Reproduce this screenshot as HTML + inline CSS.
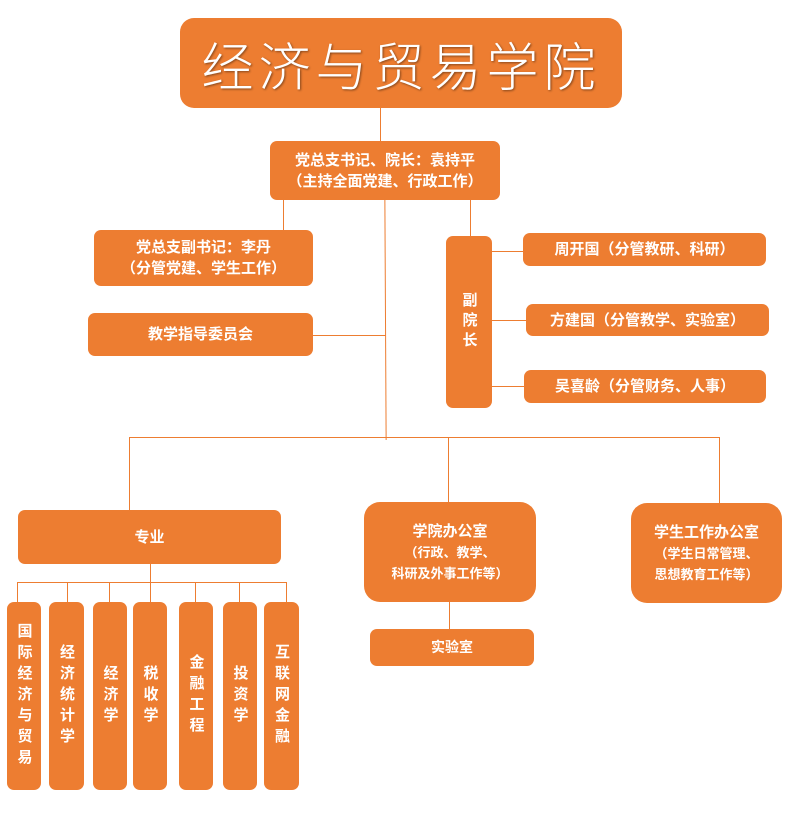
<!DOCTYPE html>
<html><head><meta charset="utf-8"><style>
body{margin:0;width:788px;height:829px;background:#fff;position:relative;overflow:hidden;font-family:"Liberation Sans","Noto Sans CJK SC",sans-serif}
.b{position:absolute;background:#ED7D31;color:#fff;border-radius:7px;display:flex;align-items:center;justify-content:center;text-align:center;font-weight:bold;font-size:14px;line-height:21px;box-sizing:border-box}
.v{writing-mode:vertical-rl;text-orientation:upright;font-size:15px;letter-spacing:6px}
.l{position:absolute;background:#ED7D31}
.h{height:1px}.w{width:1px}
</style></head><body>
<div class="l w" style="left:380px;top:108px;height:33px"></div>
<div class="l w" style="left:385px;top:200px;height:240px;transform:rotate(-0.3deg)"></div>
<div class="l w" style="left:283px;top:200px;height:30px"></div>
<div class="l w" style="left:470px;top:200px;height:36px"></div>
<div class="l h" style="left:313px;top:335px;width:73px"></div>
<div class="l h" style="left:491px;top:251px;width:33px"></div>
<div class="l h" style="left:491px;top:320px;width:35px"></div>
<div class="l h" style="left:491px;top:386px;width:33px"></div>
<div class="l h" style="left:129px;top:437px;width:591px"></div>
<div class="l w" style="left:129px;top:437px;height:73px"></div>
<div class="l w" style="left:448px;top:437px;height:66px"></div>
<div class="l w" style="left:719px;top:437px;height:66px"></div>
<div class="l w" style="left:449px;top:602px;height:27px"></div>
<div class="l w" style="left:150px;top:564px;height:38px"></div>
<div class="l h" style="left:17px;top:582px;width:270px"></div>
<div class="l w" style="left:17px;top:582px;height:20px"></div>
<div class="l w" style="left:67px;top:582px;height:20px"></div>
<div class="l w" style="left:109px;top:582px;height:20px"></div>
<div class="l w" style="left:195px;top:582px;height:20px"></div>
<div class="l w" style="left:239px;top:582px;height:20px"></div>
<div class="l w" style="left:286px;top:582px;height:20px"></div>

<div class="b" style="left:180px;top:18px;width:442px;height:90px;border-radius:14px;font-weight:300;font-size:52px;letter-spacing:5px;text-shadow:1px 1px 2px rgba(0,0,0,.45);font-family:'Noto Sans CJK SC',sans-serif">经济与贸易学院</div>
<div class="b" style="left:270px;top:141px;width:230px;height:59px;font-size:15px">党总支书记、院长：袁持平<br>（主持全面党建、行政工作）</div>
<div class="b" style="left:94px;top:230px;width:219px;height:56px;font-size:15px">党总支副书记：李丹<br>（分管党建、学生工作）</div>
<div class="b" style="left:88px;top:313px;width:225px;height:43px;font-size:15px">教学指导委员会</div>
<div class="b v" style="left:446px;top:236px;width:46px;height:172px;letter-spacing:5px">副院长</div>
<div class="b" style="left:523px;top:233px;width:243px;height:33px;font-size:15px">周开国（分管教研、科研）</div>
<div class="b" style="left:526px;top:304px;width:243px;height:32px;font-size:15px">方建国（分管教学、实验室）</div>
<div class="b" style="left:524px;top:370px;width:242px;height:33px;font-size:15px">吴喜龄（分管财务、人事）</div>
<div class="b" style="left:18px;top:510px;width:263px;height:54px;font-size:15px">专业</div>
<div class="b" style="left:364px;top:502px;width:172px;height:100px;border-radius:16px;font-size:13px;line-height:21px"><div><span style="font-size:15px">学院办公室</span><br>（行政、教学、<br>科研及外事工作等）</div></div>
<div class="b" style="left:631px;top:503px;width:151px;height:100px;border-radius:16px;font-size:13px;line-height:21px"><div><span style="font-size:15px">学生工作办公室</span><br>（学生日常管理、<br>思想教育工作等）</div></div>
<div class="b" style="left:370px;top:629px;width:164px;height:37px">实验室</div>
<div class="b v" style="left:7px;top:602px;width:34px;height:188px">国际经济与贸易</div>
<div class="b v" style="left:49px;top:602px;width:35px;height:188px">经济统计学</div>
<div class="b v" style="left:93px;top:602px;width:34px;height:188px">经济学</div>
<div class="b v" style="left:133px;top:602px;width:34px;height:188px">税收学</div>
<div class="b v" style="left:179px;top:602px;width:34px;height:188px">金融工程</div>
<div class="b v" style="left:223px;top:602px;width:34px;height:188px">投资学</div>
<div class="b v" style="left:264px;top:602px;width:35px;height:188px">互联网金融</div>
</body></html>
